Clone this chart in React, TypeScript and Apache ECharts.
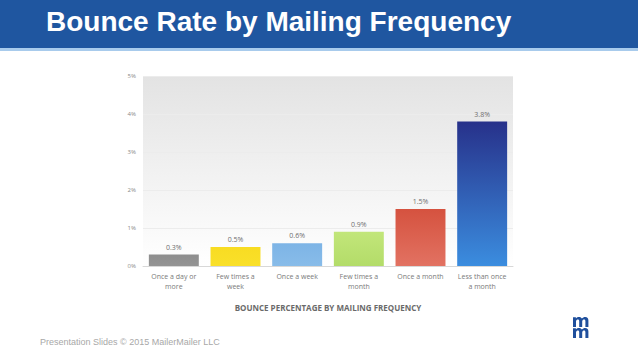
import React, { useEffect, useRef } from "react";
import * as echarts from "echarts";

const categories = [
  "Once a day or\nmore",
  "Few times a\nweek",
  "Once a week",
  "Few times a\nmonth",
  "Once a month",
  "Less than once\na month",
];
const bounceRates = [0.3, 0.5, 0.6, 0.9, 1.5, 3.8];
const barTopColors = ["#8e8e8e", "#f8dc22", "#7db4e6", "#c2e67a", "#d5523f", "#27318a"];
const barBottomColors = ["#949494", "#f9e02a", "#88bce9", "#b3dc69", "#e27262", "#3b8ddf"];
const yTicks = [0, 1, 2, 3, 4, 5];

const M_PATH =
  "M0 10 V0.2 H2.9 V1.5 C3.8 0.4 4.9 0 6.1 0 C7.4 0 8.4 0.6 8.9 1.6 C9.8 0.5 10.9 0 12.2 0 C14.4 0 15.4 1.4 15.4 3.6 V10 H12.4 V4.2 C12.4 3 11.9 2.4 11.1 2.4 C10.2 2.4 9.2 3 9.2 4.5 V10 H6.2 V4.2 C6.2 3 5.7 2.4 4.9 2.4 C4 2.4 3 3 3 4.5 V10 Z";

let registered = false;

export default function App() {
  const ref = useRef<HTMLDivElement>(null);
  useEffect(() => {
    if (!ref.current) return;
    if (!registered) {
      echarts.graphic.registerShape("logoM", echarts.graphic.extendPath(M_PATH, {}));
      registered = true;
    }
    const chart = echarts.init(ref.current, null, { renderer: "svg" });
    const font = "Liberation Sans, Arial, sans-serif";
    chart.setOption({
      animation: false,
      backgroundColor: "#ffffff",
      title: {
        text: "Bounce Rate by Mailing Frequency",
        left: 41,
        top: 2,
        textStyle: { color: "#ffffff", fontSize: 28, fontWeight: "bold", fontFamily: font },
      },
      graphic: [
        { type: "rect", left: 0, top: 0, z: -1, shape: { width: 638, height: 48 }, style: { fill: "#1f56a0" } },
        { type: "rect", left: 0, top: 48, z: -1, shape: { width: 638, height: 3 }, style: { fill: "#a8cbec" } },
        {
          type: "text",
          left: 40,
          top: 337,
          style: { text: "Presentation Slides © 2015 MailerMailer LLC", fill: "#a8a8a8", fontSize: 9, fontFamily: font },
        },
        { type: "logoM", x: 573, y: 317, scaleX: 1, scaleY: 1, style: { fill: "#1f4f9c" } },
        { type: "logoM", x: 573, y: 328, scaleX: 1, scaleY: 1, style: { fill: "#1f4f9c" } },
      ],
      grid: {
        left: 143,
        right: 125,
        top: 76,
        bottom: 93,
        show: true,
        borderWidth: 0,
        backgroundColor: {
          type: "linear",
          x: 0, y: 0, x2: 0, y2: 1,
          colorStops: [
            { offset: 0, color: "#e3e3e3" },
            { offset: 1, color: "#ffffff" },
          ],
        },
      },
      xAxis: {
        type: "category",
        data: categories,
        name: "BOUNCE PERCENTAGE BY MAILING FREQUENCY",
        nameLocation: "middle",
        nameGap: 37,
        nameTextStyle: { color: "#6a6a6a", fontSize: 8, fontWeight: "bold", fontFamily: "Open Sans, sans-serif" },
        axisLine: { show: true, lineStyle: { color: "#d8d8d8" } },
        axisTick: { show: false },
        axisLabel: {
          color: "#7a7a7a",
          fontSize: 7,
          lineHeight: 10,
          margin: 5,
          interval: 0,
          fontFamily: "Open Sans, sans-serif",
        },
      },
      yAxis: {
        type: "value",
        min: 0,
        max: 5,
        interval: 1,
        axisLine: { show: false },
        axisTick: { show: false },
        splitLine: { show: true, lineStyle: { color: "#ececec" } },
        axisLabel: {
          color: "#8a8a8a",
          fontSize: 6,
          margin: 7,
          fontFamily: "Open Sans, sans-serif",
          formatter: (v: number) => (yTicks.includes(v) ? `${v}%` : ""),
        },
      },
      series: [
        {
          type: "bar",
          barCategoryGap: "19%",
          data: bounceRates.map((v, i) => ({
            value: v,
            itemStyle: {
              color: {
                type: "linear",
                x: 0, y: 0, x2: 0, y2: 1,
                colorStops: [
                  { offset: 0, color: barTopColors[i] },
                  { offset: 1, color: barBottomColors[i] },
                ],
              },
            },
          })),
          label: {
            show: true,
            position: "top",
            distance: 4,
            color: "#6e6e6e",
            fontSize: 7,
            fontFamily: "Open Sans, sans-serif",
            formatter: (p: any) => `${p.value.toFixed(1)}%`,
          },
        },
      ],
    });
    return () => chart.dispose();
  }, []);
  return <div ref={ref} style={{ position: "absolute", left: 0, top: 0, width: 638, height: 359 }} />;
}
